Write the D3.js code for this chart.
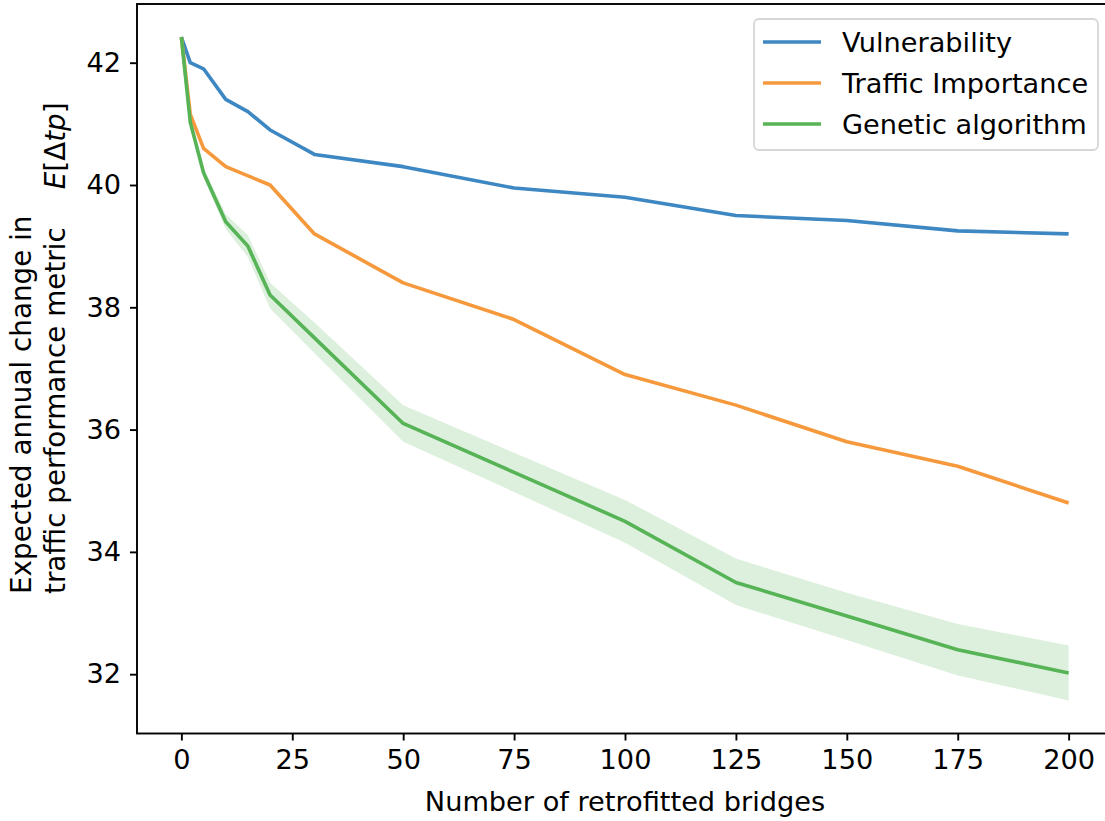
<!DOCTYPE html>
<html>
<head>
<meta charset="utf-8">
<script src="https://cdn.jsdelivr.net/npm/d3@7"></script>
<style>
  html, body { margin: 0; padding: 0; background: #fff; }
  svg { display: block; }
  text { font-family: "DejaVu Sans", sans-serif; fill: #000; }
</style>
</head>
<body>
<svg id="chart" width="1105" height="821"></svg>
<script>
// ---- data ----
const bridges = [0, 2, 5, 10, 15, 20, 30, 50, 75, 100, 125, 150, 175, 200];
const vulnerability = [42.42, 42.0, 41.9, 41.4, 41.2, 40.9, 40.5, 40.3, 39.95, 39.8, 39.5, 39.42, 39.25, 39.2];
const trafficX = [0, 2, 5, 10, 20, 30, 50, 75, 100, 125, 150, 175, 200];
const trafficImportance = [42.42, 41.16, 40.6, 40.3, 40.0, 39.2, 38.4, 37.8, 36.9, 36.4, 35.8, 35.4, 34.8];
const genetic = [42.42, 41.03, 40.2, 39.4, 39.0, 38.2, 37.5, 36.1, 35.3, 34.5, 33.5, 32.95, 32.4, 32.02];
const geneticUpper = [42.42, 41.08, 40.28, 39.52, 39.18, 38.4, 37.75, 36.4, 35.62, 34.85, 33.89, 33.33, 32.82, 32.47];
const geneticLower = [42.42, 40.98, 40.12, 39.28, 38.82, 37.98, 37.25, 35.8, 34.98, 34.15, 33.13, 32.56, 31.98, 31.57];
const xTicks = [0, 25, 50, 75, 100, 125, 150, 175, 200];
const yTicks = [32, 34, 36, 38, 40, 42];
const seriesNames = ["Vulnerability", "Traffic Importance", "Genetic algorithm"];
const xLabel = "Number of retrofitted bridges";
const yLabelLine1 = "Expected annual change in";
const yLabelLine2 = "traffic performance metric";

// ---- layout ----
const svg = d3.select("#chart");
const pL = 137, pR = 1113, pT = 4, pB = 733.5;
const FS = 27.2;
const colors = ["#3d87c2", "#f6993c", "#56b356"];

const x = d3.scaleLinear().domain([-10, 210]).range([pL, pR]);
const y = d3.scaleLinear().domain([31.03, 42.96]).range([pB, pT]);

svg.append("defs").append("clipPath").attr("id", "clip")
  .append("rect").attr("x", pL).attr("y", pT).attr("width", pR - pL).attr("height", pB - pT);

const plot = svg.append("g").attr("clip-path", "url(#clip)");

// band
const area = d3.area()
  .x((d, i) => x(bridges[i]))
  .y0((d, i) => y(geneticLower[i]))
  .y1((d, i) => y(geneticUpper[i]));
plot.append("path").datum(bridges).attr("d", area)
  .attr("fill", "#2ca02c").attr("fill-opacity", 0.16).attr("stroke", "none");

const line = d3.line().x(d => x(d[0])).y(d => y(d[1]));
const series = [
  bridges.map((b, i) => [b, vulnerability[i]]),
  trafficX.map((b, i) => [b, trafficImportance[i]]),
  bridges.map((b, i) => [b, genetic[i]])
];
series.forEach((s, k) => {
  plot.append("path").datum(s).attr("d", line)
    .attr("fill", "none").attr("stroke", colors[k])
    .attr("stroke-width", 3.6).attr("stroke-linejoin", "round").attr("stroke-linecap", "butt");
});

// axes
const xAxis = d3.axisBottom(x).tickValues(xTicks).tickSize(7).tickPadding(9).tickFormat(d3.format("d"));
const gx = svg.append("g").attr("transform", `translate(0,${pB})`).call(xAxis);
gx.select(".domain").remove();
gx.selectAll(".tick line").attr("stroke", "#000").attr("stroke-width", 1.9);
gx.selectAll(".tick text").attr("font-size", FS).attr("font-family", "DejaVu Sans").attr("fill", "#000");

const yAxis = d3.axisLeft(y).tickValues(yTicks).tickSize(7).tickPadding(9).tickFormat(d3.format("d"));
const gy = svg.append("g").attr("transform", `translate(${pL},0)`).call(yAxis);
gy.select(".domain").remove();
gy.selectAll(".tick line").attr("stroke", "#000").attr("stroke-width", 1.9);
gy.selectAll(".tick text").attr("font-size", FS).attr("font-family", "DejaVu Sans").attr("fill", "#000");

// frame
svg.append("rect").attr("x", pL).attr("y", pT).attr("width", pR - pL).attr("height", pB - pT)
  .attr("fill", "none").attr("stroke", "#000").attr("stroke-width", 1.9);

// x label
svg.append("text").attr("x", (pL + pR) / 2).attr("y", 811)
  .attr("text-anchor", "middle").attr("font-size", FS).text(xLabel);

// y label (two lines, left aligned in rotated frame)
const yl = svg.append("text").attr("transform", "translate(0,594) rotate(-90)")
  .attr("font-size", 27.8).attr("text-anchor", "start");
yl.append("tspan").attr("x", 0).attr("y", 31).text(yLabelLine1);
yl.append("tspan").attr("x", 0).attr("y", 65).text(yLabelLine2);
yl.append("tspan").attr("dx", 38).attr("font-style", "italic").text("E");
yl.append("tspan").text("[Δ");
yl.append("tspan").attr("font-style", "italic").text("tp");
yl.append("tspan").text("]");

// legend
const lg = svg.append("g");
lg.append("rect").attr("x", 754).attr("y", 19).attr("width", 344).attr("height", 131)
  .attr("rx", 5).attr("fill", "#fff").attr("fill-opacity", 0.8)
  .attr("stroke", "#d6d6d6").attr("stroke-width", 1.8);
seriesNames.forEach((name, k) => {
  const yy = 42 + k * 41;
  lg.append("line").attr("x1", 763).attr("x2", 821).attr("y1", yy).attr("y2", yy)
    .attr("stroke", colors[k]).attr("stroke-width", 3.6);
  lg.append("text").attr("x", 842).attr("y", yy).attr("dy", "0.36em")
    .attr("font-size", FS).text(name);
});
</script>
</body>
</html>
